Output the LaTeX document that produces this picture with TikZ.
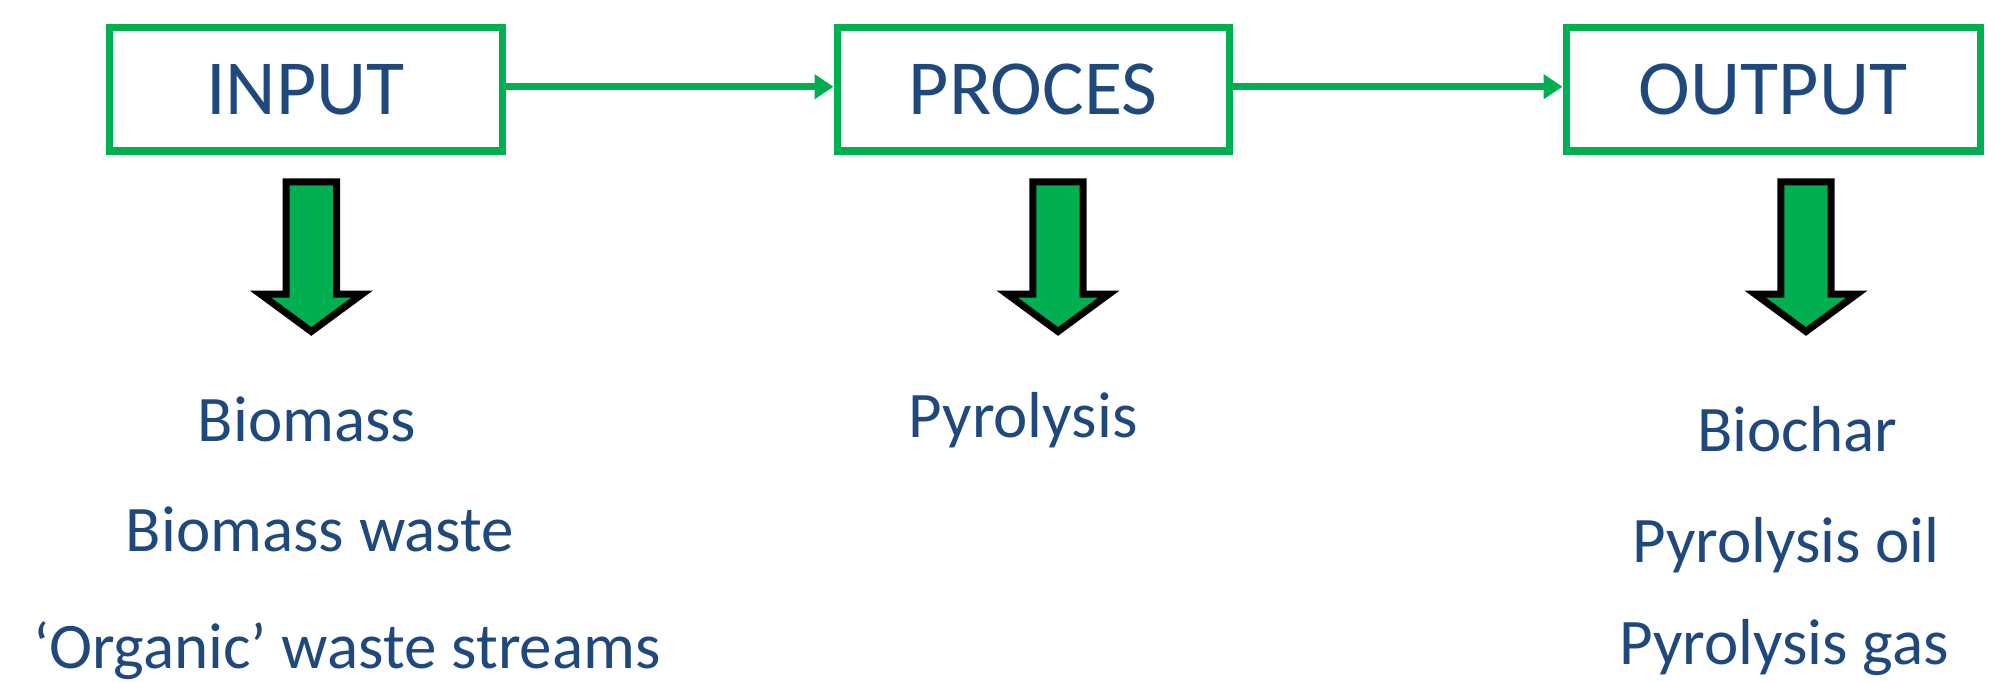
\documentclass[tikz,border=0pt]{standalone}
\usepackage{fontspec}
\setmainfont{Carlito}
\usetikzlibrary{arrows.meta}
\definecolor{pgreen}{HTML}{00B050}
\definecolor{ptext}{HTML}{1F497D}
\begin{document}
\begin{tikzpicture}[x=1pt,y=-1pt,
  box/.style={draw=pgreen, line width=7pt, minimum height=123pt, text=ptext,
    font=\fontsize{78}{94}\selectfont, inner sep=0pt},
  conn/.style={draw=pgreen, line width=7pt, -{Triangle[length=19pt,width=24pt]}},
  item/.style={text=ptext, font=\fontsize{65}{78}\selectfont, anchor=base, inner sep=0pt},
  blk/.style={draw=black, fill=pgreen, line width=7pt, miter limit=10},
  downarrow/.pic={\path[blk] (-25.2,181.8) -- (25.2,181.8) -- (25.2,294) -- (51,294)
     -- (0,331.5) -- (-51,294) -- (-25.2,294) -- cycle;}]
\useasboundingbox (0,0) rectangle (1994,682);
\node[box, minimum width=393pt] (in) at (305.5,89.5) {INPUT};
\node[box, minimum width=392pt] (pr) at (1033,89.5) {PROCES};
\node[box, minimum width=414pt] (out) at (1773,89.5) {OUTPUT};
\draw[conn] ([yshift=2.8pt]in.east) -- ([yshift=2.8pt]pr.west);
\draw[conn] ([yshift=2.8pt]pr.east) -- ([yshift=2.8pt]out.west);
\pic at (311.3,0) {downarrow};
\pic at (1058,0) {downarrow};
\pic at (1806,0) {downarrow};
\node[item] (t1) at (307,441) {Biomass};
\node[item] (t2) at (320,551) {Biomass waste};
\node[item] (t3) at (347,668) {‘Organic’ waste streams};
\node[item] (t4) at (1023,437) {Pyrolysis};
\node[item] (t5) at (1797,451) {Biochar};
\node[item] (t6) at (1786,562) {Pyrolysis oil};
\node[item] (t7) at (1784,664) {Pyrolysis gas};
\end{tikzpicture}
\end{document}
